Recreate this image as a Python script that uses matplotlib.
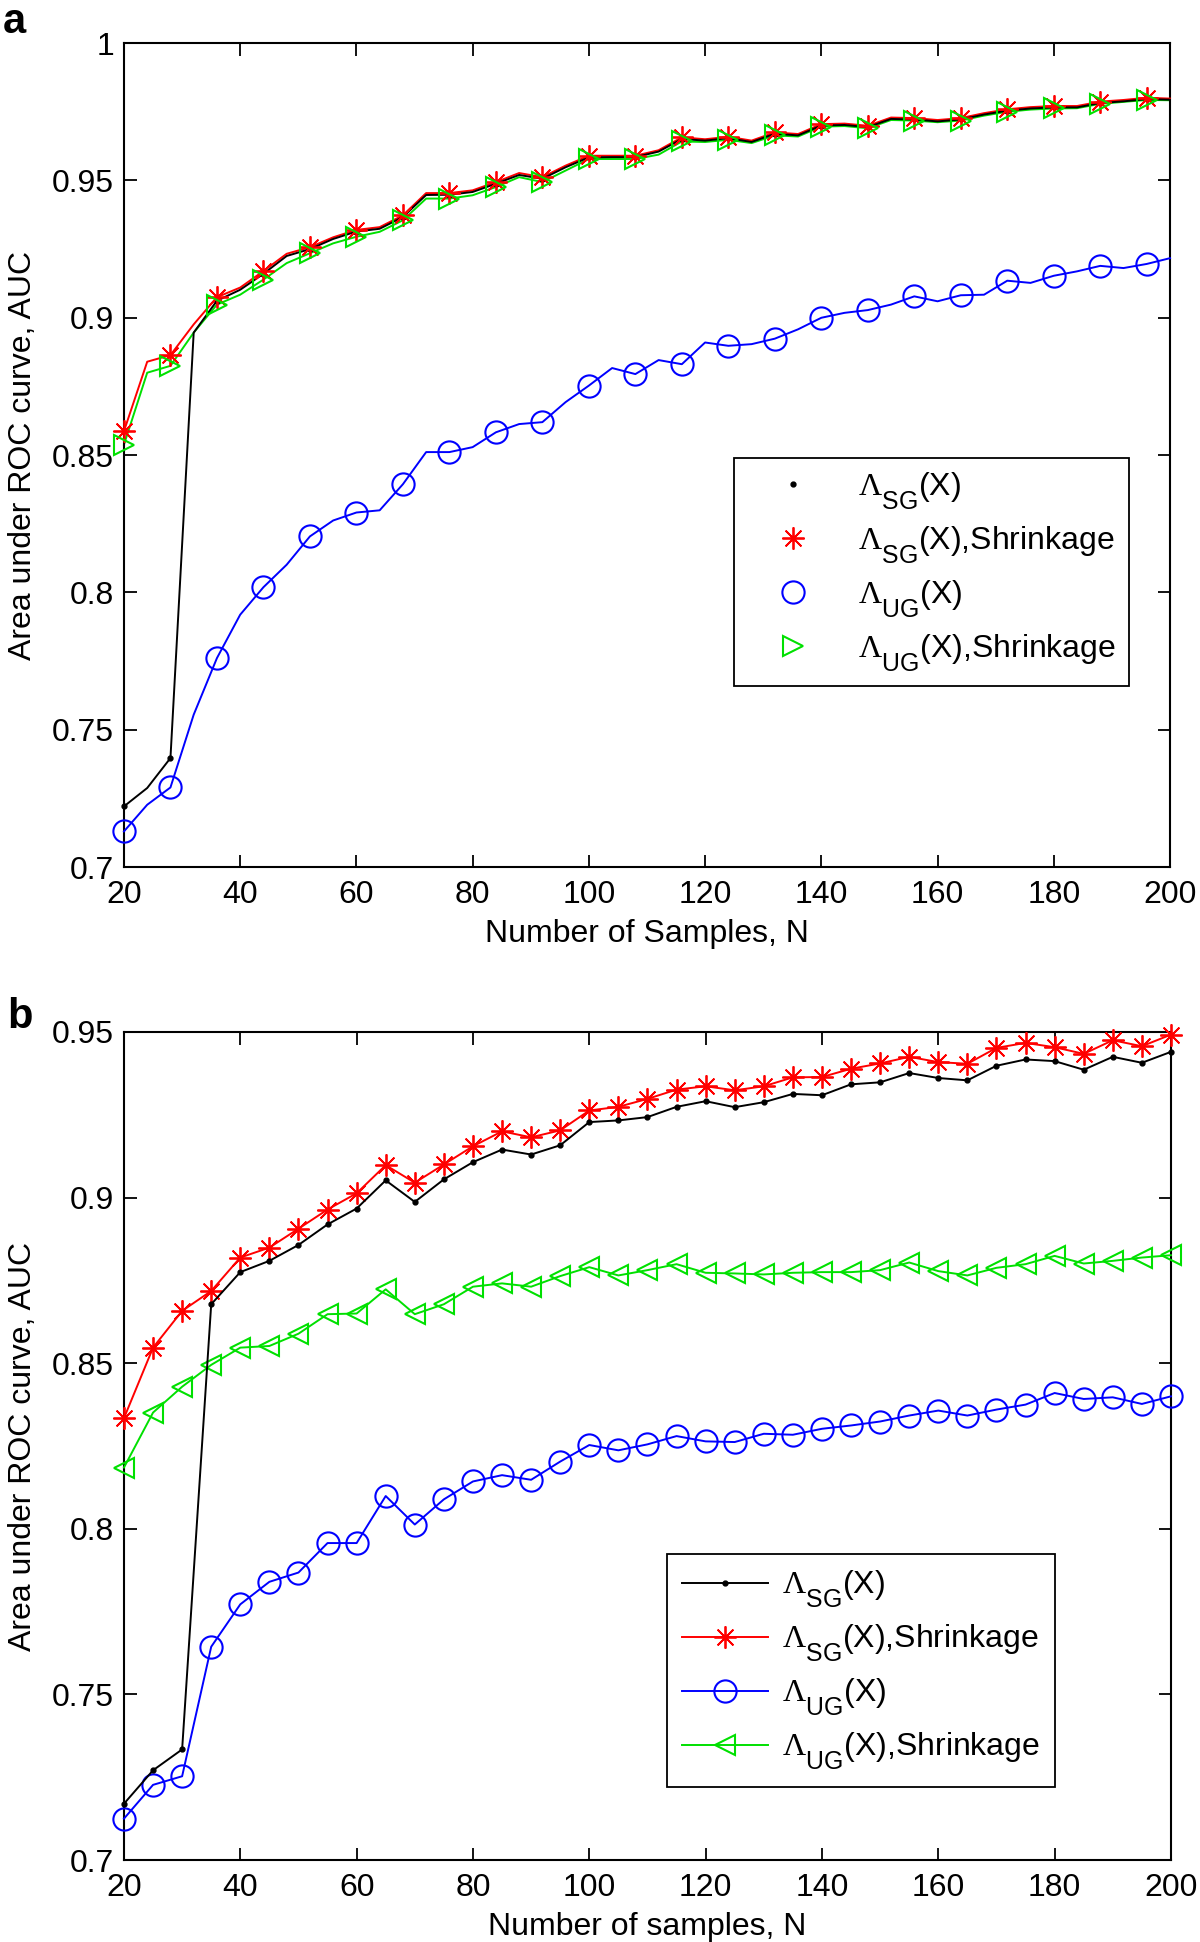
import matplotlib
matplotlib.use("Agg")
import matplotlib.pyplot as plt
from matplotlib.ticker import FixedLocator
try:
    import matplotlib._mathtext as _mt
    _mt.SHRINK_FACTOR = 0.78
    _mt.FontConstantsBase.sub1 = 0.95
    _mt.FontConstantsBase.sub2 = 0.95
except Exception:
    pass

plt.rcParams['font.family'] = ['Liberation Sans', 'DejaVu Sans']
plt.rcParams['mathtext.fontset'] = 'custom'
plt.rcParams['mathtext.rm'] = 'Liberation Serif'
plt.rcParams['mathtext.sf'] = 'Liberation Sans'
plt.rcParams['mathtext.it'] = 'Liberation Serif:italic'

# ---------------- Panel a data (N = 20, 24, ..., 200) ----------------
n_a = list(range(20, 201, 4))
sg_a = [0.7221, 0.7288, 0.7397, 0.8946, 0.9062, 0.9102, 0.9160, 0.9225, 0.9250, 0.9287,
        0.9314, 0.9324, 0.9367, 0.9447, 0.9448, 0.9458, 0.9488, 0.9520, 0.9506, 0.9548,
        0.9584, 0.9585, 0.9585, 0.9605, 0.9651, 0.9645, 0.9654, 0.9640, 0.9670, 0.9664,
        0.9700, 0.9702, 0.9694, 0.9724, 0.9722, 0.9715, 0.9722, 0.9740, 0.9754, 0.9762,
        0.9766, 0.9766, 0.9782, 0.9788, 0.9796, 0.9794]
sg_shr_a = [0.8587, 0.8840, 0.8864, 0.8976, 0.9075, 0.9110, 0.9170, 0.9233, 0.9257, 0.9293,
            0.9320, 0.9330, 0.9373, 0.9454, 0.9454, 0.9464, 0.9494, 0.9527, 0.9512, 0.9554,
            0.9590, 0.9590, 0.9590, 0.9610, 0.9657, 0.9650, 0.9659, 0.9645, 0.9675, 0.9669,
            0.9705, 0.9707, 0.9699, 0.9729, 0.9727, 0.9720, 0.9727, 0.9745, 0.9759, 0.9767,
            0.9771, 0.9771, 0.9787, 0.9793, 0.9801, 0.9798]
ug_a = [0.7130, 0.7227, 0.7290, 0.7555, 0.7761, 0.7919, 0.8019, 0.8101, 0.8204, 0.8262,
        0.8291, 0.8299, 0.8394, 0.8511, 0.8511, 0.8529, 0.8583, 0.8613, 0.8620, 0.8693,
        0.8753, 0.8817, 0.8795, 0.8846, 0.8831, 0.8910, 0.8898, 0.8904, 0.8924, 0.8958,
        0.9000, 0.9018, 0.9028, 0.9048, 0.9078, 0.9060, 0.9082, 0.9084, 0.9135, 0.9127,
        0.9153, 0.9169, 0.9189, 0.9181, 0.9196, 0.9217]
ug_shr_a = [0.8538, 0.8800, 0.8825, 0.8946, 0.9048, 0.9084, 0.9139, 0.9199, 0.9235, 0.9271,
            0.9295, 0.9313, 0.9355, 0.9434, 0.9434, 0.9446, 0.9476, 0.9512, 0.9494, 0.9536,
            0.9578, 0.9578, 0.9578, 0.9594, 0.9642, 0.9640, 0.9648, 0.9636, 0.9664, 0.9660,
            0.9696, 0.9698, 0.9690, 0.9720, 0.9718, 0.9712, 0.9718, 0.9736, 0.9750, 0.9758,
            0.9762, 0.9763, 0.9779, 0.9786, 0.9793, 0.9792]

# ---------------- Panel b data (N = 20, 25, ..., 200) ----------------
n_b = list(range(20, 201, 5))
sg_b = [0.7170, 0.7271, 0.7334, 0.8678, 0.8775, 0.8809, 0.8857, 0.8919, 0.8967, 0.9052,
        0.8987, 0.9055, 0.9107, 0.9145, 0.9130, 0.9158, 0.9228, 0.9233, 0.9243, 0.9274,
        0.9291, 0.9273, 0.9288, 0.9313, 0.9309, 0.9342, 0.9348, 0.9376, 0.9361, 0.9354,
        0.9398, 0.9417, 0.9412, 0.9386, 0.9425, 0.9407, 0.9440]
sg_shr_b = [0.8334, 0.8547, 0.8658, 0.8718, 0.8819, 0.8849, 0.8906, 0.8964, 0.9013, 0.9098,
            0.9045, 0.9100, 0.9155, 0.9200, 0.9182, 0.9203, 0.9263, 0.9274, 0.9298, 0.9326,
            0.9336, 0.9324, 0.9336, 0.9363, 0.9364, 0.9389, 0.9405, 0.9425, 0.9409, 0.9404,
            0.9452, 0.9467, 0.9454, 0.9434, 0.9475, 0.9457, 0.9492]
ug_b = [0.7125, 0.7227, 0.7253, 0.7644, 0.7772, 0.7840, 0.7868, 0.7957, 0.7957, 0.8099,
        0.8013, 0.8089, 0.8143, 0.8162, 0.8148, 0.8203, 0.8253, 0.8237, 0.8255, 0.8280,
        0.8264, 0.8262, 0.8287, 0.8284, 0.8302, 0.8312, 0.8324, 0.8342, 0.8357, 0.8342,
        0.8360, 0.8375, 0.8410, 0.8392, 0.8397, 0.8377, 0.8400]
ug_shr_b = [0.8185, 0.8351, 0.8429, 0.8495, 0.8547, 0.8552, 0.8589, 0.8648, 0.8650, 0.8723,
            0.8648, 0.8678, 0.8731, 0.8741, 0.8731, 0.8763, 0.8790, 0.8765, 0.8781, 0.8799,
            0.8773, 0.8771, 0.8768, 0.8773, 0.8775, 0.8775, 0.8781, 0.8804, 0.8778, 0.8765,
            0.8788, 0.8799, 0.8824, 0.8801, 0.8809, 0.8819, 0.8826]

labels = [r'$\Lambda_{\mathsf{SG}}$(X)', r'$\Lambda_{\mathsf{SG}}$(X),Shrinkage',
          r'$\Lambda_{\mathsf{UG}}$(X)', r'$\Lambda_{\mathsf{UG}}$(X),Shrinkage']
x_ticks = [20, 40, 60, 80, 100, 120, 140, 160, 180, 200]
x_ticklabels = ['20', '40', '60', '80', '100', '120', '140', '160', '180', '200']
y_ticks_a = [0.7, 0.75, 0.8, 0.85, 0.9, 0.95, 1.0]
y_ticklabels_a = ['0.7', '0.75', '0.8', '0.85', '0.9', '0.95', '1']
y_ticks_b = [0.7, 0.75, 0.8, 0.85, 0.9, 0.95]
y_ticklabels_b = ['0.7', '0.75', '0.8', '0.85', '0.9', '0.95']

FS = 23
RED = '#ff0000'
BLUE = '#0000ff'
GREEN = '#00e000'
STAR = (8, 2, 0)
LW = 1.4

fig = plt.figure(figsize=(12, 19.42), dpi=100)
ax_a = fig.add_axes([0.1033, 0.5535, 0.8717, 0.4243])
ax_b = fig.add_axes([0.1033, 0.0422, 0.8725, 0.4264])


def style_axes(ax, yticks, yticklabels, ylim, xlabel):
    ax.set_xlim(20, 200)
    ax.set_ylim(*ylim)
    ax.xaxis.set_major_locator(FixedLocator(x_ticks))
    ax.set_xticklabels(x_ticklabels)
    ax.yaxis.set_major_locator(FixedLocator(yticks))
    ax.set_yticklabels(yticklabels)
    ax.tick_params(direction='in', length=9, width=1.3, top=True, right=True,
                   labelsize=FS, pad=7)
    ax.tick_params(axis='x', pad=9)
    for s in ax.spines.values():
        s.set_linewidth(1.5)
    ax.set_xlabel(xlabel, fontsize=FS, labelpad=7)
    ax.set_ylabel('Area under ROC curve, AUC', fontsize=FS, labelpad=10)


# ----- Panel a: lines with markers on every other point; legend shows markers only
ax_a.plot(n_a, ug_shr_a, color=GREEN, lw=LW, zorder=2)
ax_a.plot(n_a, sg_shr_a, color=RED, lw=LW, zorder=3)
ax_a.plot(n_a, sg_a, color='black', lw=LW, zorder=4)
ax_a.plot(n_a, ug_a, color=BLUE, lw=LW, zorder=3)
ax_a.plot(n_a, sg_a, ls='none', marker='.', color='black', markersize=7,
          markevery=2, zorder=5, label=labels[0])
ax_a.plot(n_a, sg_shr_a, ls='none', marker=STAR, color=RED, markersize=16,
          markeredgewidth=1.3, markevery=2, zorder=6, label=labels[1])
ax_a.plot(n_a, ug_a, ls='none', marker='o', mfc='none', mec=BLUE, markersize=16,
          markeredgewidth=1.5, markevery=2, zorder=6, label=labels[2])
ax_a.plot(n_a, ug_shr_a, ls='none', marker='>', mfc='none', mec=GREEN, markersize=15,
          markeredgewidth=1.5, markevery=2, zorder=6, label=labels[3])
style_axes(ax_a, y_ticks_a, y_ticklabels_a, (0.7, 1.0), 'Number of Samples, N')
leg_a = ax_a.legend(loc='upper left', bbox_to_anchor=(0.583, 0.497), borderaxespad=0,
                    fontsize=FS, fancybox=False, edgecolor='black', framealpha=1,
                    handlelength=2.9, handletextpad=0.6, labelspacing=0.4,
                    borderpad=0.4)
leg_a.get_frame().set_linewidth(1.3)

# ----- Panel b
ax_b.plot(n_b, sg_b, color='black', lw=LW, marker='.', markersize=7, label=labels[0], zorder=4)
ax_b.plot(n_b, sg_shr_b, color=RED, lw=LW, marker=STAR, markersize=16,
          markeredgewidth=1.3, label=labels[1], zorder=3)
ax_b.plot(n_b, ug_b, color=BLUE, lw=LW, marker='o', mfc='none', mec=BLUE, markersize=16,
          markeredgewidth=1.5, label=labels[2], zorder=3)
ax_b.plot(n_b, ug_shr_b, color=GREEN, lw=LW, marker='<', mfc='none', mec=GREEN,
          markersize=15, markeredgewidth=1.5, label=labels[3], zorder=3)
style_axes(ax_b, y_ticks_b, y_ticklabels_b, (0.7, 0.95), 'Number of samples, N')
for a in (ax_a, ax_b):
    for line in a.get_lines():
        line.set_clip_on(False)
leg_b = ax_b.legend(loc='upper left', bbox_to_anchor=(0.519, 0.369), borderaxespad=0,
                    fontsize=FS, fancybox=False, edgecolor='black', framealpha=1,
                    handlelength=2.7, handletextpad=0.45, labelspacing=0.4,
                    borderpad=0.45)
leg_b.get_frame().set_linewidth(1.3)

fig.text(0.002, 0.999, 'a', fontsize=30, fontweight='bold', va='top', ha='left')
fig.text(0.006, 0.4865, 'b', fontsize=30, fontweight='bold', va='top', ha='left')

fig.savefig('out.png', dpi=100)
